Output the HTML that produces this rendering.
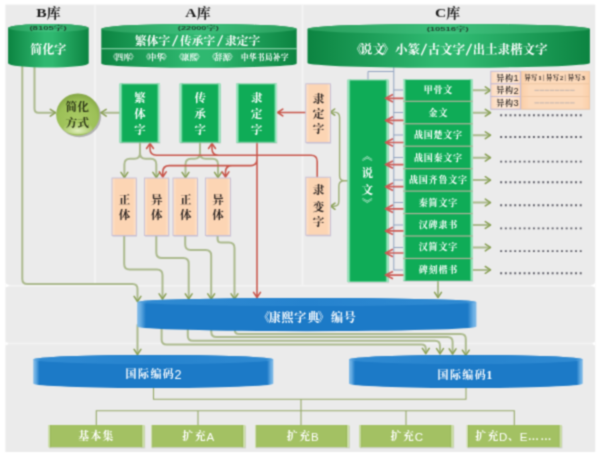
<!DOCTYPE html>
<html lang="zh"><head><meta charset="utf-8"><title>字库关系图</title>
<style>
html,body{margin:0;padding:0;background:#fff;}
body{width:600px;height:457px;overflow:hidden;font-family:"Liberation Sans",sans-serif;}
svg{display:block;}
.t{font-family:"Liberation Serif","Noto Serif CJK SC",serif;font-weight:bold;stroke:none;}
</style></head><body>
<svg width="600" height="457" viewBox="0 0 600 457">
<defs>
<filter id="soft" x="0" y="0" width="100%" height="100%" color-interpolation-filters="sRGB"><feConvolveMatrix order="3" kernelMatrix="0.0441 0.1218 0.0441 0.1218 0.3364 0.1218 0.0441 0.1218 0.0441" edgeMode="duplicate" preserveAlpha="true"/></filter>
<linearGradient id="gG" x1="0" x2="1" y1="0" y2="0"><stop offset="0" stop-color="#0c8441"/><stop offset="0.45" stop-color="#2fb870"/><stop offset="0.55" stop-color="#2fb870"/><stop offset="1" stop-color="#0c8441"/></linearGradient>
<linearGradient id="gL" x1="0" x2="1" y1="0" y2="0"><stop offset="0" stop-color="#2a9e5c"/><stop offset="0.5" stop-color="#3cc07c"/><stop offset="1" stop-color="#2a9e5c"/></linearGradient>
<linearGradient id="gB" x1="0" x2="1" y1="0" y2="0"><stop offset="0" stop-color="#80bae8"/><stop offset="0.009" stop-color="#6aaee3"/><stop offset="0.026" stop-color="#1c7ac7"/><stop offset="0.974" stop-color="#1c7ac7"/><stop offset="0.991" stop-color="#6aaee3"/><stop offset="1" stop-color="#80bae8"/></linearGradient>
<linearGradient id="bL" x1="0" x2="1" y1="0" y2="0"><stop offset="0" stop-color="#6aaee3"/><stop offset="0.03" stop-color="#2f8ad2"/><stop offset="0.5" stop-color="#2683ce"/><stop offset="0.97" stop-color="#2f8ad2"/><stop offset="1" stop-color="#6aaee3"/></linearGradient>
<linearGradient id="gX" x1="0" x2="1" y1="0" y2="0"><stop offset="0" stop-color="#b9efd4"/><stop offset="0.035" stop-color="#8fe0b6"/><stop offset="0.085" stop-color="#0fac57"/><stop offset="0.915" stop-color="#0fac57"/><stop offset="0.965" stop-color="#8fe0b6"/><stop offset="1" stop-color="#b9efd4"/></linearGradient>
<linearGradient id="gP2" x1="0" x2="1" y1="0" y2="0"><stop offset="0" stop-color="#fbcfa8"/><stop offset="0.12" stop-color="#fcd9ba"/><stop offset="0.88" stop-color="#fcd9ba"/><stop offset="1" stop-color="#fbcfa8"/></linearGradient>
<linearGradient id="gP3" x1="0" x2="1" y1="0" y2="0"><stop offset="0" stop-color="#fcd9bc"/><stop offset="0.3" stop-color="#fee7d3"/><stop offset="0.7" stop-color="#fee7d3"/><stop offset="1" stop-color="#fcd9bc"/></linearGradient>
<linearGradient id="gEL" x1="0" x2="1" y1="0" y2="0"><stop offset="0" stop-color="#bdf0d6"/><stop offset="0.45" stop-color="#8fe0b6"/><stop offset="1" stop-color="#0fac57"/></linearGradient>
<linearGradient id="gER" x1="0" x2="1" y1="0" y2="0"><stop offset="0" stop-color="#0fac57"/><stop offset="0.55" stop-color="#8fe0b6"/><stop offset="1" stop-color="#bdf0d6"/></linearGradient>
<linearGradient id="gP" x1="0" x2="1" y1="0" y2="0"><stop offset="0" stop-color="#fde3cc"/><stop offset="0.15" stop-color="#fcd5b4"/><stop offset="0.85" stop-color="#fcd5b4"/><stop offset="1" stop-color="#fde3cc"/></linearGradient>
<linearGradient id="gOL" x1="0" x2="1" y1="0" y2="0"><stop offset="0" stop-color="#d6e5b6"/><stop offset="0.5" stop-color="#c3d89a"/><stop offset="0.62" stop-color="#93b155"/><stop offset="1" stop-color="#a3c163"/></linearGradient>
<linearGradient id="gOR" x1="0" x2="1" y1="0" y2="0"><stop offset="0" stop-color="#a3c163"/><stop offset="0.3" stop-color="#93b155"/><stop offset="0.45" stop-color="#c3d89a"/><stop offset="1" stop-color="#d6e5b6"/></linearGradient>
<radialGradient id="gC" cx="0.5" cy="0.62" r="0.62"><stop offset="0" stop-color="#a9ca64"/><stop offset="0.72" stop-color="#9cc057"/><stop offset="1" stop-color="#83a544"/></radialGradient>
<radialGradient id="gCh" cx="0.5" cy="0.7" r="0.7"><stop offset="0" stop-color="#e6f2c6" stop-opacity="0.95"/><stop offset="1" stop-color="#cfe3a0" stop-opacity="0"/></radialGradient>
</defs>
<g filter="url(#soft)">
<rect width="600" height="457" fill="#fff"/>
<rect x="5.4" y="4.6" width="589.8" height="447.4" fill="#ebebeb"/>
<rect x="5.4" y="284.9" width="589.8" height="1.7" fill="#f4f4f4"/>
<rect x="5.4" y="342.7" width="589.8" height="1.7" fill="#f3f3f3"/>
<rect x="94.2" y="4.6" width="1.6" height="280.3" fill="#f5f5f5"/>
<rect x="301.5" y="4.6" width="2" height="280.3" fill="#f4f4f4"/>
<path d="M5.4 280.4Q5.4 284.9 9.9 284.9L7.9 286.6Q5.4 286.6 5.4 289.1Z" fill="#fff"/>
<path d="M595.2 280.4Q595.2 284.9 590.7 284.9L592.7 286.6Q595.2 286.6 595.2 289.1Z" fill="#fff"/>
<path d="M5.4 340.2Q5.4 342.7 7.9 342.7L7.9 344.4Q5.4 344.4 5.4 346.9Z" fill="#fff"/>
<path d="M595.2 340.2Q595.2 342.7 592.7 342.7L592.7 344.4Q595.2 344.4 595.2 346.9Z" fill="#fff"/>
<path d="M393.8 65V270.3M393.8 71.5H368V79.5M393.8 90H403M393.8 112.5H403M393.8 135H403M393.8 157.5H403M393.8 180H403M393.8 202.5H403M393.8 225H403M393.8 247.5H403M393.8 270H403" fill="none" stroke="#8c9fbe" stroke-width="0.95"/>
<path d="M22.3 65L22.3 279Q22.3 284 27.3 284L132.5 284Q137.5 284 137.5 289L137.5 301M34.5 65L34.5 108.7Q34.5 112.7 38.5 112.7L55 112.7M119.5 112.7H101.5M140 142.5V153M140 153Q140 158.8 134.5 158.8H129.9Q124.4 158.8 124.4 164.3V177.3M140 153Q140 158.8 145.5 158.8H150.8Q156.3 158.8 156.3 164.3V177.3M200 142.5V153M200 153Q200 158.8 194.5 158.8H191Q185.5 158.8 185.5 164.3V177.3M200 153Q200 158.8 205.5 158.8H212.5Q218 158.8 218 164.3V177.3M124.2 235.5L124.2 264Q124.2 269.5 129.7 269.5L157 269.5Q162.5 269.5 162.5 275L162.5 298.6M156.3 235.5L156.3 252.5Q156.3 258 161.8 258L183.2 258Q188.7 258 188.7 263.5L188.7 298.6M185.2 235.5L185.2 244.5Q185.2 250 190.7 250L205.7 250Q211.2 250 211.2 255.5L211.2 298.6M217.6 235.5L217.6 239.05Q217.6 242.6 221.15 242.6L229 242.6Q234.5 242.6 234.5 248.1L234.5 298.6M438 281V297M472.5 90.3H490M472.5 112.75H490M472.5 135.2H490M472.5 157.65H490M472.5 180.1H490M472.5 202.55H490M472.5 225H490M472.5 247.45H490M472.5 269.9H490M137.5 325V354M161.6 326L161.6 339.6Q161.6 344.6 166.6 344.6L421.5 344.6Q425.8 344.6 425.8 348.9L425.8 353.2M187.8 326L187.8 335.8Q187.8 340.8 192.8 340.8L435 340.8Q440 340.8 440 345.8L440 353.4M211.3 326L211.3 332Q211.3 337 216.3 337L447.6 337Q452.6 337 452.6 342L452.6 353.6M234.8 326L234.8 330Q234.8 334 238.8 334L460.8 334Q465.8 334 465.8 339L465.8 355" fill="none" stroke="#acba8e" stroke-width="2.0" stroke-linecap="round" stroke-linejoin="round"/>
<path d="M347.5 180.7H344.3Q339.6 180.7 339.6 176V117.6Q339.6 112.1 334.3 112.1H331M344.3 180.7Q338.9 180.7 338.9 186V201Q338.9 206.2 334 206.2H331.2" fill="none" stroke="#9bad72" stroke-width="1.4" stroke-linecap="round" stroke-linejoin="round"/>
<path d="M134.1 296.3L137.5 301.5L140.9 296.3M50.3 109.3L55.5 112.7L50.3 116.1M106.2 109.3L101 112.7L106.2 116.1M121 172.4L124.4 177.6L127.8 172.4M152.9 172.4L156.3 177.6L159.7 172.4M182.1 172.4L185.5 177.6L188.9 172.4M214.6 172.4L218 177.6L221.4 172.4M334.7 109L330.4 112.1L334.7 115.2M335 203.1L330.7 206.2L335 209.3M159.1 293.8L162.5 299L165.9 293.8M185.3 293.8L188.7 299L192.1 293.8M207.8 293.8L211.2 299L214.6 293.8M231.1 293.8L234.5 299L237.9 293.8M434.6 292.3L438 297.5L441.4 292.3M485.3 86.9L490.5 90.3L485.3 93.7M485.3 109.35L490.5 112.75L485.3 116.15M485.3 131.8L490.5 135.2L485.3 138.6M485.3 154.25L490.5 157.65L485.3 161.05M485.3 176.7L490.5 180.1L485.3 183.5M485.3 199.15L490.5 202.55L485.3 205.95M485.3 221.6L490.5 225L485.3 228.4M485.3 244.05L490.5 247.45L485.3 250.85M485.3 266.5L490.5 269.9L485.3 273.3M134.1 349.3L137.5 354.5L140.9 349.3M422.4 348.4L425.8 353.6L429.2 348.4M436.6 348.6L440 353.8L443.4 348.6M449.2 348.8L452.6 354L456 348.8M462.4 350.2L465.8 355.4L469.2 350.2" fill="none" stroke="#8aa056" stroke-width="1.5" stroke-linecap="round" stroke-linejoin="round"/>
<path d="M153.5 386V399.3H466V386M301 399.3V425M96.3 425V410.7H514.3V425M198 410.7V425M406 410.7V425" fill="none" stroke="#95a868" stroke-width="1.1"/>
<path d="M317.2 177.5V161.5Q317.2 155.2 311 155.2H156.5Q150 155.2 150 148.7V144M218.5 155.2Q212 155.2 212 148.7V144M146.6 148.5L150 143.3L153.4 148.5M208.6 148.5L212 143.3L215.4 148.5M257 142.5V297M253.6 292.3L257 297.5L260.4 292.3M257 159Q257 165.6 250.5 165.6H169.3Q162.8 165.6 162.8 172V176.5M232 165.6Q225.5 165.6 225.5 172V176.5M159.4 171.8L162.8 177L166.2 171.8M222.1 171.8L225.5 177L228.9 171.8M305.7 112.5H278.2M282.8 109.1L277.6 112.5L282.8 115.9" fill="none" stroke="#c8554a" stroke-width="1.55" stroke-linecap="round" stroke-linejoin="round"/>
<path d="M8.1 28A40.3 4 0 0 1 88.7 28V63.3A40.3 4.3 0 0 1 8.1 63.3Z" fill="url(#gG)"/>
<ellipse cx="48.4" cy="28" rx="40.3" ry="4" fill="url(#gL)"/>
<path d="M101.3 28.9A97.7 5 0 0 1 296.7 28.9V63.6A97.7 4.2 0 0 1 101.3 63.6Z" fill="url(#gG)"/>
<ellipse cx="199" cy="28.9" rx="97.7" ry="5" fill="url(#gL)"/>
<path d="M307.5 28.9A141.2 5 0 0 1 589.9 28.9V63A141.2 4.8 0 0 1 307.5 63Z" fill="url(#gG)"/>
<ellipse cx="448.7" cy="28.9" rx="141.2" ry="5" fill="url(#gL)"/>
<path d="M137.2 302A169.6 4 0 0 1 476.4 302V326.6A169.6 4.6 0 0 1 137.2 326.6Z" fill="url(#gB)"/>
<ellipse cx="306.8" cy="302" rx="169.6" ry="4" fill="url(#bL)"/>
<path d="M33.3 359.5A120 4.5 0 0 1 273.3 359.5V383.5A120 4.5 0 0 1 33.3 383.5Z" fill="url(#gB)"/>
<ellipse cx="153.3" cy="359.5" rx="120" ry="4.5" fill="url(#bL)"/>
<path d="M349 359.5A116.85 4.5 0 0 1 582.7 359.5V383.5A116.85 4.5 0 0 1 349 383.5Z" fill="url(#gB)"/>
<ellipse cx="465.85" cy="359.5" rx="116.85" ry="4.5" fill="url(#bL)"/>
<rect x="101.3" y="48.2" width="195.4" height="1" fill="#9adbb6"/>
<rect x="119.9" y="84.8" width="40.5" height="58.8" fill="#b5b5b5" opacity="0.5"/>
<rect x="119.5" y="83.7" width="40.5" height="58.8" fill="#0fac57"/>
<rect x="119.5" y="83.7" width="3.2" height="58.8" fill="url(#gEL)"/>
<rect x="156.8" y="83.7" width="3.2" height="58.8" fill="url(#gER)"/>
<path d="M119.5 84.1H160M119.5 142.1H160" stroke="#9fe4c1" stroke-width="0.8" opacity="0.7" fill="none"/>
<rect x="180.1" y="84.8" width="40.8" height="58.8" fill="#b5b5b5" opacity="0.5"/>
<rect x="179.7" y="83.7" width="40.8" height="58.8" fill="#0fac57"/>
<rect x="179.7" y="83.7" width="3.2" height="58.8" fill="url(#gEL)"/>
<rect x="217.3" y="83.7" width="3.2" height="58.8" fill="url(#gER)"/>
<path d="M179.7 84.1H220.5M179.7 142.1H220.5" stroke="#9fe4c1" stroke-width="0.8" opacity="0.7" fill="none"/>
<rect x="236.6" y="84.8" width="40.8" height="58.8" fill="#b5b5b5" opacity="0.5"/>
<rect x="236.2" y="83.7" width="40.8" height="58.8" fill="#0fac57"/>
<rect x="236.2" y="83.7" width="3.2" height="58.8" fill="url(#gEL)"/>
<rect x="273.8" y="83.7" width="3.2" height="58.8" fill="url(#gER)"/>
<path d="M236.2 84.1H277M236.2 142.1H277" stroke="#9fe4c1" stroke-width="0.8" opacity="0.7" fill="none"/>
<rect x="347.9" y="80.9" width="41" height="202.2" fill="#b5b5b5" opacity="0.5"/>
<rect x="347.5" y="79.8" width="41" height="202.2" fill="#0fac57"/>
<rect x="347.5" y="79.8" width="3.2" height="202.2" fill="url(#gEL)"/>
<rect x="385.3" y="79.8" width="3.2" height="202.2" fill="url(#gER)"/>
<path d="M347.5 80.2H388.5M347.5 281.6H388.5" stroke="#9fe4c1" stroke-width="0.8" opacity="0.7" fill="none"/>
<rect x="403.4" y="80.8" width="69.6" height="200.9" fill="#b5b5b5" opacity="0.5"/>
<rect x="403" y="79.7" width="69.8" height="201" fill="#0fac57"/>
<rect x="403" y="79.7" width="3.2" height="201" fill="url(#gEL)"/>
<rect x="469.6" y="79.7" width="3.2" height="201" fill="url(#gER)"/>
<rect x="403" y="100.7" width="69.8" height="1.2" fill="#b3b39c"/>
<rect x="403" y="123.15" width="69.8" height="1.2" fill="#b3b39c"/>
<rect x="403" y="145.6" width="69.8" height="1.2" fill="#b3b39c"/>
<rect x="403" y="168.05" width="69.8" height="1.2" fill="#b3b39c"/>
<rect x="403" y="190.5" width="69.8" height="1.2" fill="#b3b39c"/>
<rect x="403" y="212.95" width="69.8" height="1.2" fill="#b3b39c"/>
<rect x="403" y="235.4" width="69.8" height="1.2" fill="#b3b39c"/>
<rect x="403" y="257.85" width="69.8" height="1.2" fill="#b3b39c"/>
<path d="M403.5 98.3H386.5M393 94.6L385.4 98.3L393 102M403.5 120.4H386.5M393 116.7L385.4 120.4L393 124.1M403.5 142.5H386.5M393 138.8L385.4 142.5L393 146.2M403.5 164.6H386.5M393 160.9L385.4 164.6L393 168.3M403.5 186.7H386.5M393 183L385.4 186.7L393 190.4M403.5 208.8H386.5M393 205.1L385.4 208.8L393 212.5M403.5 230.9H386.5M393 227.2L385.4 230.9L393 234.6M403.5 253H386.5M393 249.3L385.4 253L393 256.7M403.5 275.1H386.5M393 271.4L385.4 275.1L393 278.8" fill="none" stroke="#cc5b56" stroke-width="1.7" stroke-linejoin="round"/>
<rect x="112.6" y="179.2" width="24.3" height="57.5" fill="#b9b2c6" opacity="0.55"/>
<rect x="112" y="178" width="24.3" height="57.5" fill="url(#gP)" stroke="#c4bcd6" stroke-width="0.9"/>
<rect x="145" y="179.2" width="24.3" height="57.5" fill="#b9b2c6" opacity="0.55"/>
<rect x="144.4" y="178" width="24.3" height="57.5" fill="url(#gP)" stroke="#c4bcd6" stroke-width="0.9"/>
<rect x="173.6" y="179.2" width="24.5" height="57.5" fill="#b9b2c6" opacity="0.55"/>
<rect x="173" y="178" width="24.5" height="57.5" fill="url(#gP)" stroke="#c4bcd6" stroke-width="0.9"/>
<rect x="206" y="179.2" width="25.1" height="57.5" fill="#b9b2c6" opacity="0.55"/>
<rect x="205.4" y="178" width="25.1" height="57.5" fill="url(#gP)" stroke="#c4bcd6" stroke-width="0.9"/>
<rect x="306.4" y="85" width="24.7" height="58.7" fill="#b9b2c6" opacity="0.55"/>
<rect x="305.8" y="83.8" width="24.7" height="58.7" fill="url(#gP)" stroke="#c4bcd6" stroke-width="0.9"/>
<rect x="306.4" y="178.4" width="24.7" height="58" fill="#b9b2c6" opacity="0.55"/>
<rect x="305.8" y="177.2" width="24.7" height="58" fill="url(#gP)" stroke="#c4bcd6" stroke-width="0.9"/>
<rect x="491.2" y="72" width="99" height="38" fill="#c9c4cf" opacity="0.5"/>
<rect x="521.4" y="71.3" width="68.2" height="12.6" fill="url(#gP2)" stroke="#eec6a2" stroke-width="0.8"/>
<rect x="490.8" y="71.3" width="29.6" height="12.6" fill="url(#gP3)" stroke="#c2b9d6" stroke-width="0.9"/>
<rect x="521.4" y="83.9" width="68.2" height="12.6" fill="url(#gP2)" stroke="#eec6a2" stroke-width="0.8"/>
<rect x="490.8" y="83.9" width="29.6" height="12.6" fill="url(#gP3)" stroke="#c2b9d6" stroke-width="0.9"/>
<rect x="521.4" y="96.5" width="68.2" height="12.6" fill="url(#gP2)" stroke="#eec6a2" stroke-width="0.8"/>
<rect x="490.8" y="96.5" width="29.6" height="12.6" fill="url(#gP3)" stroke="#c2b9d6" stroke-width="0.9"/>
<path d="M534.5 90.3H575M534.5 102.9H575" stroke="#b5adad" stroke-width="0.9" stroke-dasharray="4.4 0.7" fill="none"/>
<ellipse cx="79.3" cy="116.2" rx="21.8" ry="21" fill="#777" opacity="0.5"/>
<ellipse cx="77.85" cy="114.5" rx="21.7" ry="21" fill="url(#gC)"/>
<ellipse cx="77.85" cy="128.3" rx="14.5" ry="6" fill="url(#gCh)"/>
<rect x="49.3" y="426" width="95.9" height="22.4" fill="#bdbdbd" opacity="0.55"/>
<rect x="48.5" y="425" width="95.9" height="22.2" fill="#a3c163"/>
<rect x="48.5" y="425" width="2.6" height="22.2" fill="url(#gOL)"/>
<rect x="141" y="425" width="3.4" height="22.2" fill="url(#gOR)"/>
<rect x="151.8" y="426" width="94.2" height="22.4" fill="#bdbdbd" opacity="0.55"/>
<rect x="151" y="425" width="94.2" height="22.2" fill="#a3c163"/>
<rect x="151" y="425" width="2.6" height="22.2" fill="url(#gOL)"/>
<rect x="241.8" y="425" width="3.4" height="22.2" fill="url(#gOR)"/>
<rect x="255.8" y="426" width="94.2" height="22.4" fill="#bdbdbd" opacity="0.55"/>
<rect x="255" y="425" width="94.2" height="22.2" fill="#a3c163"/>
<rect x="255" y="425" width="2.6" height="22.2" fill="url(#gOL)"/>
<rect x="345.8" y="425" width="3.4" height="22.2" fill="url(#gOR)"/>
<rect x="360.1" y="426" width="94.1" height="22.4" fill="#bdbdbd" opacity="0.55"/>
<rect x="359.3" y="425" width="94.1" height="22.2" fill="#a3c163"/>
<rect x="359.3" y="425" width="2.6" height="22.2" fill="url(#gOL)"/>
<rect x="450" y="425" width="3.4" height="22.2" fill="url(#gOR)"/>
<rect x="467.6" y="426" width="94.8" height="22.4" fill="#bdbdbd" opacity="0.55"/>
<rect x="466.8" y="425" width="94.8" height="22.2" fill="#a3c163"/>
<rect x="466.8" y="425" width="2.6" height="22.2" fill="url(#gOL)"/>
<rect x="558.2" y="425" width="3.4" height="22.2" fill="url(#gOR)"/>
<path d="M500.2 115.2H581.8" stroke="#5e5e68" stroke-width="1.9" stroke-dasharray="1.9 2.78" fill="none"/>
<path d="M500.2 137H581.8" stroke="#5e5e68" stroke-width="1.9" stroke-dasharray="1.9 2.78" fill="none"/>
<path d="M500.2 161.6H581.8" stroke="#5e5e68" stroke-width="1.9" stroke-dasharray="1.9 2.78" fill="none"/>
<path d="M500.2 182.3H581.8" stroke="#5e5e68" stroke-width="1.9" stroke-dasharray="1.9 2.78" fill="none"/>
<path d="M500.2 205.3H581.8" stroke="#5e5e68" stroke-width="1.9" stroke-dasharray="1.9 2.78" fill="none"/>
<path d="M500.2 228.4H581.8" stroke="#5e5e68" stroke-width="1.9" stroke-dasharray="1.9 2.78" fill="none"/>
<path d="M500.2 251.1H581.8" stroke="#5e5e68" stroke-width="1.9" stroke-dasharray="1.9 2.78" fill="none"/>
<path d="M500.2 273.2H581.8" stroke="#5e5e68" stroke-width="1.9" stroke-dasharray="1.9 2.78" fill="none"/>
<text x="0" y="16.91" font-family="Liberation Serif" font-weight="bold" font-size="12.8" fill="#1c1c1c" transform="translate(36.29 0) scale(1.22 1)">B</text>
<text class="t" fill="#1c1c1c" x="46.71" y="18.04" font-size="14">库</text>
<text x="0" y="16.91" font-family="Liberation Serif" font-weight="bold" font-size="12.8" fill="#1c1c1c" transform="translate(185.36 0) scale(1.22 1)">A</text>
<text class="t" fill="#1c1c1c" x="196.64" y="18.04" font-size="14">库</text>
<text x="0" y="16.91" font-family="Liberation Serif" font-weight="bold" font-size="12.8" fill="#1c1c1c" transform="translate(435.06 0) scale(1.22 1)">C</text>
<text class="t" fill="#1c1c1c" x="446.34" y="18.04" font-size="14">库</text>
<text x="0 1.96 5.25 8.53 11.81" y="30.32" font-family="Liberation Sans" font-weight="bold" font-size="5.9" fill="#21452f" transform="translate(29.41 0) scale(1.62 1)">(8105</text>
<text class="t" fill="#21452f" x="0" y="30.32" font-size="5.9" transform="translate(53.85 0) scale(1.62 1)">字</text>
<text x="0" y="30.32" font-family="Liberation Sans" font-weight="bold" font-size="5.9" fill="#21452f" transform="translate(63.41 0) scale(1.62 1)">)</text>
<text x="0 1.96 5.25 8.53 11.81 15.09" y="29.82" font-family="Liberation Sans" font-weight="bold" font-size="5.9" fill="#21452f" transform="translate(177.84 0) scale(1.56 1)">(22000</text>
<text class="t" fill="#21452f" x="0" y="29.82" font-size="5.9" transform="translate(206.5 0) scale(1.56 1)">字</text>
<text x="0" y="29.82" font-family="Liberation Sans" font-weight="bold" font-size="5.9" fill="#21452f" transform="translate(215.7 0) scale(1.56 1)">)</text>
<text x="0 1.96 5.25 8.53 11.81 15.09" y="30.52" font-family="Liberation Sans" font-weight="bold" font-size="5.9" fill="#21452f" transform="translate(426.71 0) scale(1.6 1)">(10516</text>
<text class="t" fill="#21452f" x="0" y="30.52" font-size="5.9" transform="translate(456.11 0) scale(1.6 1)">字</text>
<text x="0" y="30.52" font-family="Liberation Sans" font-weight="bold" font-size="5.9" fill="#21452f" transform="translate(465.55 0) scale(1.6 1)">)</text>
<text class="t" fill="#ffffff" x="30.2 42.2 54.2" y="53.92" font-size="12">简化字</text>
<path d="M172.62 46.3 L177.53 35.3" stroke="#ffffff" stroke-width="1.29" fill="none"/>
<path d="M217.66 46.3 L222.57 35.3" stroke="#ffffff" stroke-width="1.29" fill="none"/>
<text class="t" fill="#ffffff" x="135 146.7 158.4 180.04 191.74 203.44 225.09 236.79 248.49" y="45.01" font-size="11.7">繁体字传承字隶定字</text>
<text class="t" fill="#ffffff" x="109.29 115.82 123.42 129.96" y="60.2" font-size="7.5">《四库》</text>
<text class="t" fill="#ffffff" x="142.29 148.82 156.42 162.96" y="60.2" font-size="7.5">《中华》</text>
<text class="t" fill="#ffffff" x="175.29 181.82 189.42 195.96" y="60.2" font-size="7.5">《康熙》</text>
<text class="t" fill="#ffffff" x="208.29 214.82 222.42 228.96" y="60.2" font-size="7.5">《辞源》</text>
<text class="t" fill="#ffffff" x="240.88 248.93 256.97 265.02 273.07 281.12" y="60.2" font-size="7.5">中华书局补字</text>
<path d="M421.32 55.38 L426.48 43.82" stroke="#ffffff" stroke-width="1.35" fill="none"/>
<path d="M466.32 55.38 L471.48 43.82" stroke="#ffffff" stroke-width="1.35" fill="none"/>
<text class="t" fill="#ffffff" x="350.5 360 372.5 382 395.25 407.75 427.75 440.25 452.75 472.75 485.25 497.75 510.25 522.75 535.25" y="54.03" font-size="12.3">《说文》小篆古文字出土隶楷文字</text>
<text class="t" fill="#ffffff" x="134.3 134.3 134.3" y="101.9 118.2 134.1" font-size="11.4">繁体字</text>
<text class="t" fill="#ffffff" x="194.5 194.5 194.5" y="101.9 118.2 134.1" font-size="11.4">传承字</text>
<text class="t" fill="#ffffff" x="251.1 251.1 251.1" y="101.9 118.2 134.1" font-size="11.4">隶定字</text>
<text class="t" fill="#2b2422" x="312.8 312.8 312.8" y="102.88 117.98 133.18" font-size="11.6">隶定字</text>
<text class="t" fill="#2b2422" x="312.8 312.8 312.8" y="194.18 210.78 226.38" font-size="11.6">隶变字</text>
<text class="t" fill="#2b2422" x="118.8 118.8" y="203.58 219.18" font-size="11.6">正体</text>
<text class="t" fill="#2b2422" x="151 151" y="203.58 219.18" font-size="11.6">异体</text>
<text class="t" fill="#2b2422" x="180 180" y="203.58 219.18" font-size="11.6">正体</text>
<text class="t" fill="#2b2422" x="212.3 212.3" y="203.58 219.18" font-size="11.6">异体</text>
<text class="t" fill="#2a3316" x="65.5 77.3" y="110.85" font-size="11.8">简化</text>
<text class="t" fill="#2a3316" x="65.5 77.3" y="126.85" font-size="11.8">方式</text>
<text class="t" fill="#ffffff" x="361.6 361.6" y="177.48 194.28" font-size="11.6">说文</text>
<text class="t" fill="#ffffff" x="367.2" y="159.6" font-size="10.5" text-anchor="middle">︽</text>
<text class="t" fill="#ffffff" x="367.2" y="206.9" font-size="10.5" text-anchor="middle">︾</text>
<text class="t" fill="#ffffff" x="423.7 433.5 443.3" y="93.44" font-size="9">甲骨文</text>
<text class="t" fill="#ffffff" x="428.6 438.4" y="115.86" font-size="9">金文</text>
<text class="t" fill="#ffffff" x="413.9 423.7 433.5 443.3 453.1" y="138.28" font-size="9">战国楚文字</text>
<text class="t" fill="#ffffff" x="413.9 423.7 433.5 443.3 453.1" y="160.7" font-size="9">战国秦文字</text>
<text class="t" fill="#ffffff" x="409 418.8 428.6 438.4 448.2 458" y="183.12" font-size="9">战国齐鲁文字</text>
<text class="t" fill="#ffffff" x="418.8 428.6 438.4 448.2" y="205.54" font-size="9">秦简文字</text>
<text class="t" fill="#ffffff" x="418.8 428.6 438.4 448.2" y="227.96" font-size="9">汉碑隶书</text>
<text class="t" fill="#ffffff" x="418.8 428.6 438.4 448.2" y="250.38" font-size="9">汉简文字</text>
<text class="t" fill="#ffffff" x="418.8 428.6 438.4 448.2" y="272.8" font-size="9">碑刻楷书</text>
<text class="t" fill="#2b2422" x="496.3 505" y="80.62" font-size="8.1">异构</text>
<text x="513.4" y="81.11" font-family="Liberation Sans" font-weight="normal" font-size="9.2" fill="#2b2422">1</text>
<text class="t" fill="#2b2422" x="496.3 505" y="93.22" font-size="8.1">异构</text>
<text x="513.4" y="93.71" font-family="Liberation Sans" font-weight="normal" font-size="9.2" fill="#2b2422">2</text>
<text class="t" fill="#2b2422" x="496.3 505" y="105.82" font-size="8.1">异构</text>
<text x="513.4" y="106.31" font-family="Liberation Sans" font-weight="normal" font-size="9.2" fill="#2b2422">3</text>
<text class="t" fill="#2b2422" x="524.47 531.12" y="79.87" font-size="6.3">异写</text>
<text x="538.2" y="80" font-family="Liberation Serif" font-weight="bold" font-size="7" fill="#2b2422">1</text>
<path d="M543.6 74.6V81" stroke="#4a4040" stroke-width="0.5"/>
<text class="t" fill="#2b2422" x="546.12 552.77" y="79.87" font-size="6.3">异写</text>
<text x="559.85" y="80" font-family="Liberation Serif" font-weight="bold" font-size="7" fill="#2b2422">2</text>
<path d="M565.25 74.6V81" stroke="#4a4040" stroke-width="0.5"/>
<text class="t" fill="#2b2422" x="567.77 574.42" y="79.87" font-size="6.3">异写</text>
<text x="581.5" y="80" font-family="Liberation Serif" font-weight="bold" font-size="7" fill="#2b2422">3</text>
<text class="t" fill="#ffffff" x="258.36 268.63 281.49 294.34 307.19 317.47 330.96 343.81" y="322.42" font-size="12">《康熙字典》编号</text>
<text class="t" fill="#ffffff" x="125.6 138 150.4 162.8" y="378.16" font-size="11">国际编码</text>
<text x="174.5" y="378.94" font-family="Liberation Sans" font-weight="normal" font-size="12.6" fill="#ffffff">2</text>
<text class="t" fill="#ffffff" x="437.52 449.92 462.32 474.72" y="378.56" font-size="11">国际编码</text>
<text x="486.42" y="378.74" font-family="Liberation Serif" font-weight="bold" font-size="11.5" fill="#ffffff">1</text>
<text class="t" fill="#ffffff" x="78.3 90.4 102.5" y="440.39" font-size="10.8">基本集</text>
<text class="t" fill="#ffffff" x="182.26 194.86" y="440.39" font-size="10.8">扩充</text>
<text x="206.56" y="440.64" font-family="Liberation Sans" font-weight="normal" font-size="11.5" fill="#ffffff">A</text>
<text class="t" fill="#ffffff" x="286.66 299.26" y="440.39" font-size="10.8">扩充</text>
<text x="310.96" y="440.64" font-family="Liberation Sans" font-weight="normal" font-size="11.5" fill="#ffffff">B</text>
<text class="t" fill="#ffffff" x="390.45 403.05" y="440.39" font-size="10.8">扩充</text>
<text x="414.75" y="440.64" font-family="Liberation Sans" font-weight="normal" font-size="11.5" fill="#ffffff">C</text>
<text class="t" fill="#ffffff" x="475.21 487.51" y="440.39" font-size="10.8">扩充</text>
<text x="499.06" y="440.64" font-family="Liberation Sans" font-weight="normal" font-size="11.5" fill="#ffffff">D</text>
<text class="t" fill="#ffffff" x="508.12" y="440.39" font-size="10.8">、</text>
<text x="519.67" y="440.64" font-family="Liberation Sans" font-weight="normal" font-size="11.5" fill="#ffffff">E</text>
<text class="t" fill="#ffffff" x="528.09 540.39" y="440.39" font-size="10.8">……</text>
</g>
</svg>
</body></html>
